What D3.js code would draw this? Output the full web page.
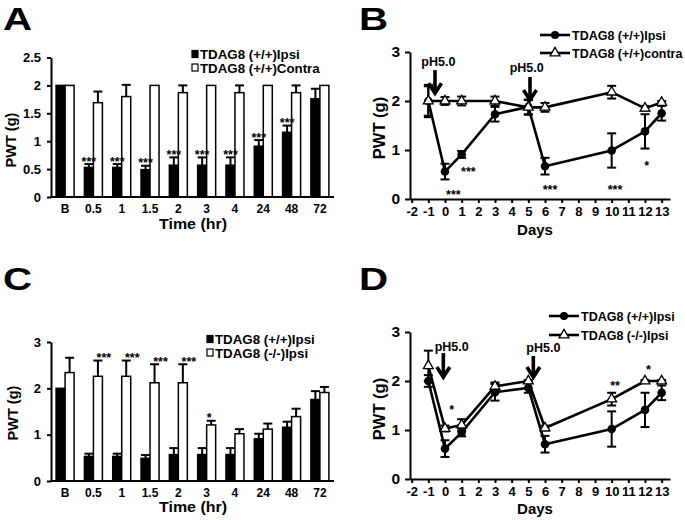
<!DOCTYPE html>
<html><head><meta charset="utf-8">
<script src="https://cdn.jsdelivr.net/npm/d3@7"></script>
<style>
body{margin:0;background:#fff}
text{font-family:"Liberation Sans",Arial,Helvetica,sans-serif;font-weight:bold;fill:#000}
</style>
</head><body>
<svg id="c" width="685" height="520"></svg>
<script>
// ---------- data ----------
const barCats = ['B','0.5','1','1.5','2','3','4','24','48','72'];
const ipsiWT     = [2.0,0.53,0.53,0.49,0.57,0.57,0.57,0.91,1.16,1.76];
const ipsiWTErr  = [0,0.06,0.06,0.07,0.14,0.14,0.14,0.11,0.12,0.18];
const contraWT   = [2.0,1.69,1.80,2.0,1.87,2.0,1.87,2.0,1.87,2.0];
const contraWTErr= [0,0.20,0.21,0,0.13,0,0.13,0,0.13,0];
const ipsiKO     = [2.34,2.26,2.26,2.12,2.12,1.21,1.02,1.12,1.39,1.91];
const ipsiKOErr  = [0.32,0.34,0.34,0.40,0.40,0.09,0.10,0.12,0.17,0.12];
const starsA = ['','***','***','***','***','***','***','***','***',''];
const starsC = ['','***','***','***','***','*','','','',''];
const yTicksA = [0,0.5,1,1.5,2,2.5];
const yTicksC = [0,1,2,3];

const days = [-1,0,1,3,5,6,10,12,13];
const dayTicks = [-2,-1,0,1,2,3,4,5,6,7,8,9,10,11,12,13];
const yTicksLine = [0,1,2,3];
const bIpsi      = [2.0,0.56,0.91,1.73,1.88,0.67,0.99,1.38,1.75];
const bIpsiErr   = [0.30,0.16,0.07,0.15,0.15,0.17,0.35,0.35,0.15];
const bContra    = [2.0,2.0,2.0,2.0,1.87,1.87,2.18,1.85,1.97];
const bContraErr = [0.33,0.08,0.09,0.09,0.15,0.09,0.13,0.05,0.03];
const dIpsi      = [2.0,0.62,0.95,1.77,1.86,0.71,1.02,1.41,1.76];
const dIpsiErr   = [0.12,0.17,0.08,0.17,0.10,0.17,0.36,0.35,0.15];
const dKO        = [2.31,1.03,1.10,1.89,2.0,1.04,1.63,2.0,2.0];
const dKOErr     = [0.31,0.06,0.12,0.08,0.02,0.05,0.13,0.02,0.02];
const bStars = [{day:0.5,v:0.14,t:'***'},{day:1.4,v:0.61,t:'***'},{day:6.3,v:0.24,t:'***'},{day:10.2,v:0.24,t:'***'},{day:12.1,v:0.73,t:'*'}];
const dStars = [{day:0.4,v:1.45,t:'*'},{day:10.2,v:1.94,t:'**'},{day:12.2,v:2.27,t:'*'}];
const bArrows = [{day:-0.6,from:2.63,to:2.16,textDay:-0.4,textV:2.71},{day:5.1,from:2.49,to:2.02,textDay:4.9,textV:2.59}];
const dArrows = [{day:-0.1,from:2.57,to:2.08,textDay:0.4,textV:2.61},{day:5.3,from:2.51,to:2.08,textDay:5.9,textV:2.59}];
const arrowLabel = 'pH5.0';

// ---------- drawing ----------
const svg = d3.select('#c');
svg.append('rect').attr('width',685).attr('height',520).attr('fill','#fff');

function panelLetter(txt,x,y){
  svg.append('text').attr('transform',`translate(${x},${y}) scale(1.3,1)`)
    .attr('font-size',31).text(txt);
}

function styleAxis(g,fs){
  g.selectAll('.domain').attr('stroke','#000').attr('stroke-width',2);
  g.selectAll('.tick line').attr('stroke','#000').attr('stroke-width',2);
  g.selectAll('.tick text').attr('font-size',fs).attr('font-family','"Liberation Sans",Arial,sans-serif').attr('font-weight','bold').attr('fill','#000');
}

function barPanel(o){
  const y = d3.scaleLinear().domain([0,o.yMax]).range([o.y0,o.y1]);
  const x = d3.scaleBand().domain(barCats).range([51,334]).paddingInner(0.364).paddingOuter(0.18);
  const sub = d3.scaleBand().domain(['a','b']).range([0,x.bandwidth()]);
  const g = svg.append('g');
  const series = [{k:'a',vals:o.black,errs:o.blackErr,fill:'#000'},{k:'b',vals:o.white,errs:o.whiteErr,fill:'#fff'}];
  series.forEach(s=>{
    barCats.forEach((c,i)=>{
      const bx = x(c)+sub(s.k), bw = sub.bandwidth();
      g.append('rect').attr('x',bx).attr('y',y(s.vals[i])).attr('width',bw)
        .attr('height',y(0)-y(s.vals[i])).attr('fill',s.fill).attr('stroke','#000').attr('stroke-width',1.5);
      if(s.errs[i]>0){
        const cx = bx+bw/2, top = y(s.vals[i]+s.errs[i]);
        g.append('line').attr('x1',cx).attr('x2',cx).attr('y1',y(s.vals[i])).attr('y2',top).attr('stroke','#000').attr('stroke-width',2);
        g.append('line').attr('x1',cx-4.5).attr('x2',cx+4.5).attr('y1',top).attr('y2',top).attr('stroke','#000').attr('stroke-width',2);
      }
    });
  });
  // stars
  barCats.forEach((c,i)=>{
    const t = o.stars[i]; if(!t) return;
    const s = o.starOn==='a' ? {vals:o.black,errs:o.blackErr} : {vals:o.white,errs:o.whiteErr};
    const cx = x(c)+sub(o.starOn)+sub.bandwidth()/2 + (o.starOn==='b' ? (t.length>1?6:-2) : 0);
    g.append('text').attr('x',cx).attr('y',y(s.vals[i]+s.errs[i])+1.5)
      .attr('text-anchor','middle').attr('font-size',12.5).attr('font-weight','normal').text(t);
  });
  // axes
  const ya = g.append('g').attr('transform','translate(51,0)')
    .call(d3.axisLeft(y).tickValues(o.yTicks).tickFormat(d=>String(d)).tickSize(4).tickSizeOuter(0).tickPadding(6));
  styleAxis(ya,13);
  const xa = g.append('g').attr('transform',`translate(0,${o.y0})`)
    .call(d3.axisBottom(x).tickSize(0).tickPadding(7));
  styleAxis(xa,12);
  xa.select('.domain').attr('d',`M51,0H334`);
  // titles
  g.append('text').attr('transform',`translate(${o.ylabX},${o.ylabY}) rotate(-90)`).attr('text-anchor','middle').attr('font-size',14.5).text('PWT (g)');
  g.append('text').attr('transform',`translate(193,${o.xlabY}) scale(1.1,1)`).attr('text-anchor','middle').attr('font-size',14.5).text('Time (hr)');
  // legend
  o.legend.forEach((l,i)=>{
    const ly = o.legY + i*13.5;
    g.append('rect').attr('x',o.legX).attr('y',ly-3.5).attr('width',6).attr('height',7)
      .attr('fill',i===0?'#000':'#fff').attr('stroke','#000').attr('stroke-width',1.2);
    g.append('text').attr('x',o.legX+8).attr('y',ly+5).attr('font-size',13.3).text(l);
  });
}

function errBars(g,x,y,vals,errs){
  days.forEach((d,i)=>{
    if(errs[i]<=0) return;
    const cx=x(d), t=y(vals[i]+errs[i]), b=y(vals[i]-errs[i]);
    g.append('line').attr('x1',cx).attr('x2',cx).attr('y1',t).attr('y2',b).attr('stroke','#000').attr('stroke-width',2);
    [t,b].forEach(yy=>g.append('line').attr('x1',cx-4.5).attr('x2',cx+4.5).attr('y1',yy).attr('y2',yy).attr('stroke','#000').attr('stroke-width',2));
  });
}

const tri = d3.symbol().type(d3.symbolTriangle).size(42);

function linePanel(o){
  const y = d3.scaleLinear().domain([0,3]).range([o.y0,o.y0-147]);
  const x = d3.scaleLinear().domain([-2.1,13.5]).range([410,670]);
  const g = svg.append('g');
  const line = d3.line().x((d,i)=>x(days[i])).y(d=>y(d));
  // series 1 (circles)
  errBars(g,x,y,o.s1,o.s1e);
  g.append('path').attr('d',line(o.s1)).attr('fill','none').attr('stroke','#000').attr('stroke-width',2.6).attr('stroke-linejoin','round');
  o.s1.forEach((v,i)=>g.append('circle').attr('cx',x(days[i])).attr('cy',y(v)).attr('r',4.3).attr('fill','#000'));
  // series 2 (triangles)
  errBars(g,x,y,o.s2,o.s2e);
  g.append('path').attr('d',line(o.s2)).attr('fill','none').attr('stroke','#000').attr('stroke-width',2.6).attr('stroke-linejoin','round');
  o.s2.forEach((v,i)=>g.append('path').attr('d',tri).attr('transform',`translate(${x(days[i])},${y(v)})`)
    .attr('fill','#fff').attr('stroke','#000').attr('stroke-width',1.3));
  // stars
  o.stars.forEach(s=>g.append('text').attr('x',x(s.day)).attr('y',y(s.v)+6.5).attr('text-anchor','middle')
    .attr('font-size',12.5).attr('font-weight','normal').text(s.t));
  // arrows
  o.arrows.forEach(a=>{
    const ax=x(a.day), t=y(a.from), b=y(a.to);
    g.append('line').attr('x1',ax).attr('x2',ax).attr('y1',t).attr('y2',b-2).attr('stroke','#000').attr('stroke-width',3.6);
    g.append('path').attr('d',`M${ax-6.5},${b-10}L${ax},${b}L${ax+6.5},${b-10}`).attr('fill','none')
      .attr('stroke','#000').attr('stroke-width',3.6).attr('stroke-linejoin','miter');
    g.append('text').attr('x',x(a.textDay)).attr('y',y(a.textV)).attr('text-anchor','middle').attr('font-size',12.5).text(arrowLabel);
  });
  // axes
  const ya = g.append('g').attr('transform','translate(410,0)')
    .call(d3.axisLeft(y).tickValues(yTicksLine).tickFormat(d=>String(d)).tickSize(5).tickSizeOuter(0).tickPadding(5));
  styleAxis(ya,15.5);
  const xa = g.append('g').attr('transform',`translate(0,${o.y0})`)
    .call(d3.axisBottom(x).tickValues(dayTicks).tickFormat(d=>String(d)).tickSize(4).tickSizeOuter(0).tickPadding(4));
  styleAxis(xa,13);
  g.append('text').attr('transform',`translate(385,${o.ylabY}) rotate(-90)`).attr('text-anchor','middle').attr('font-size',16.5).text('PWT (g)');
  g.append('text').attr('x',535).attr('y',o.xlabY).attr('text-anchor','middle').attr('font-size',15).text('Days');
  // legend
  o.legend.forEach((l,i)=>{
    const ly = o.legY + i*o.legGap;
    g.append('line').attr('x1',o.legX).attr('x2',o.legX+30).attr('y1',ly).attr('y2',ly).attr('stroke','#000').attr('stroke-width',2.6);
    if(i===0) g.append('circle').attr('cx',o.legX+15).attr('cy',ly).attr('r',4).attr('fill','#000');
    else g.append('path').attr('d',tri).attr('transform',`translate(${o.legX+15},${ly})`).attr('fill','#fff').attr('stroke','#000').attr('stroke-width',1.3);
    g.append('text').attr('x',o.legX+32).attr('y',ly+4.5).attr('font-size',12.5).text(l);
  });
}

panelLetter('A',3,30);
panelLetter('B',359,30);
panelLetter('C',3,290);
panelLetter('D',359,290);

barPanel({y0:197,y1:57.5,yMax:2.5,yTicks:yTicksA,black:ipsiWT,blackErr:ipsiWTErr,white:contraWT,whiteErr:contraWTErr,
  stars:starsA,starOn:'a',ylabX:16,ylabY:140,xlabY:228.5,legX:192,legY:54,
  legend:['TDAG8 (+/+)Ipsi','TDAG8 (+/+)Contra']});
barPanel({y0:481,y1:342,yMax:3,yTicks:yTicksC,black:ipsiWT,blackErr:ipsiWTErr,white:ipsiKO,whiteErr:ipsiKOErr,
  stars:starsC,starOn:'b',ylabX:18,ylabY:413,xlabY:511.5,legX:207,legY:339,
  legend:['TDAG8 (+/+)Ipsi','TDAG8 (-/-)Ipsi']});

linePanel({y0:199,s1:bIpsi,s1e:bIpsiErr,s2:bContra,s2e:bContraErr,stars:bStars,arrows:bArrows,
  ylabY:128,xlabY:235,legX:540,legY:35,legGap:18,legend:['TDAG8 (+/+)Ipsi','TDAG8 (+/+)contra']});
linePanel({y0:479,s1:dIpsi,s1e:dIpsiErr,s2:dKO,s2e:dKOErr,stars:dStars,arrows:dArrows,
  ylabY:409,xlabY:514,legX:549,legY:316,legGap:19,legend:['TDAG8 (+/+)Ipsi','TDAG8 (-/-)Ipsi']});
</script>
</body></html>
